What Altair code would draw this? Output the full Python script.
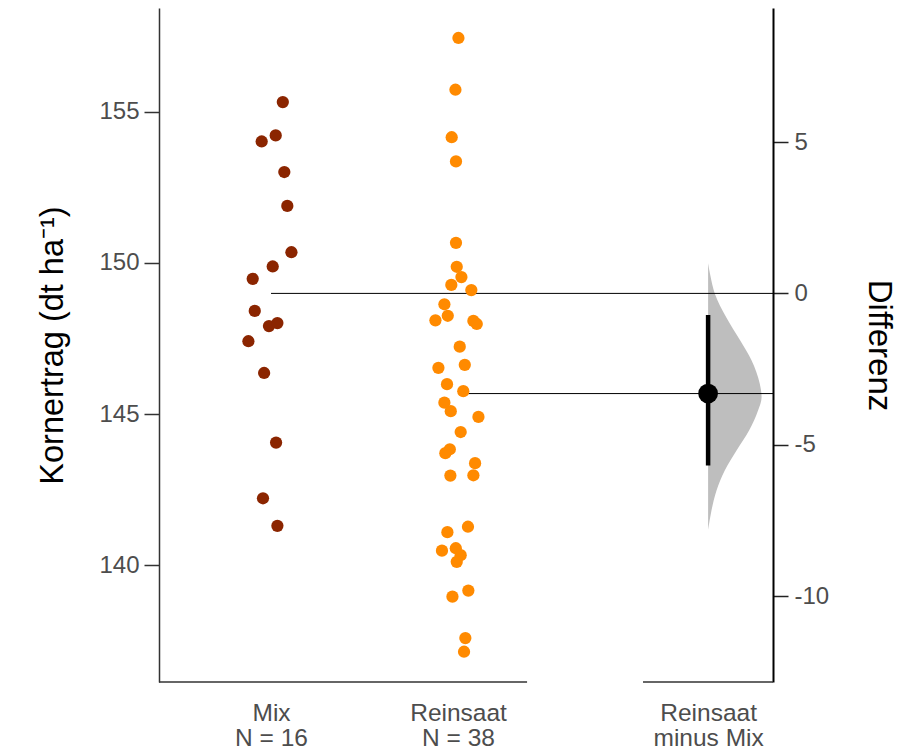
import altair as alt
import pandas as pd

FONT = "Liberation Sans"

# ---- data ----
groups = ["Mix", "Reinsaat"]
group_pos = [1, 2]
group_colors = ["#8B2500", "#FF8A00"]
group_n = [16, 38]

mix_yield = [155.31, 154.01, 154.21, 153.00, 151.88, 150.35, 149.88, 149.47,
             148.41, 147.91, 148.01, 147.41, 146.36, 144.06, 142.22, 141.31]
mix_jitter = [0.063, -0.050, 0.025, 0.071, 0.087, 0.109, 0.009, -0.098,
              -0.087, -0.011, 0.034, -0.121, -0.037, 0.027, -0.043, 0.034]

rein_yield = [157.43, 155.72, 154.15, 153.35, 150.66, 149.87, 149.53, 149.27,
              149.10, 148.63, 148.25, 148.10, 148.08, 147.98, 147.23, 146.53,
              146.63, 145.99, 145.76, 145.38, 145.10, 144.91, 144.41, 143.84,
              143.71, 143.38, 142.98, 142.97, 141.28, 141.10, 140.49, 140.57,
              140.34, 140.12, 139.17, 138.97, 137.60, 137.15]
rein_jitter = [0.002, -0.014, -0.034, -0.011, -0.011, -0.007, 0.018, -0.036,
               0.071, -0.073, -0.055, -0.121, 0.082, 0.100, 0.009, -0.105,
               0.036, -0.059, 0.028, -0.073, -0.039, 0.109, 0.014, -0.044,
               -0.068, 0.091, 0.082, -0.041, 0.053, -0.057, -0.086, -0.012,
               0.014, -0.007, 0.055, -0.030, 0.039, 0.032]

group_means = [148.99, 145.68]

diff_label = ["Reinsaat", "minus Mix"]
diff_pos = 3.337
diff_mean = -3.31
diff_ci = [-5.69, -0.71]

# bootstrap density of the difference (half violin)
dens_diff = [1.00, 0.59, -0.01, -0.78, -1.55, -2.21, -2.98, -3.43, -3.87,
             -4.53, -5.19, -5.85, -6.51, -7.17, -7.81]
dens_width = [0.0, 0.012, 0.036, 0.096, 0.171, 0.232, 0.276, 0.286, 0.267,
              0.219, 0.152, 0.089, 0.045, 0.018, 0.0]

x_domain = [0.401, 3.684]
panel_start = [0.401, 2.989]
panel_end = [2.369, 3.684]
y_left_domain = [136.15, 158.42]
y_right_domain = [-12.84, 9.43]

# ---- tables ----
pts = pd.DataFrame({
    "group": ["Mix"] * len(mix_yield) + ["Reinsaat"] * len(rein_yield),
    "yield": mix_yield + rein_yield,
    "x": [group_pos[0] + j for j in mix_jitter] + [group_pos[1] + j for j in rein_jitter],
})
means_df = pd.DataFrame({"x": group_pos, "x_end": [x_domain[1]] * 2, "mean": group_means})
panels_df = pd.DataFrame({"start": panel_start, "end": panel_end})
violin_df = pd.DataFrame({"diff": dens_diff,
                          "x0": [diff_pos] * len(dens_diff),
                          "x1": [diff_pos + w for w in dens_width]})
diff_df = pd.DataFrame({"x": [diff_pos], "mean": [diff_mean],
                        "lo": [diff_ci[0]], "hi": [diff_ci[1]]})

# ---- scales & axes ----
x_scale = alt.Scale(domain=x_domain, nice=False, zero=False)
yl_scale = alt.Scale(domain=y_left_domain, nice=False, zero=False)
yr_scale = alt.Scale(domain=y_right_domain, nice=False, zero=False)

lab1 = f"['{groups[0]}', 'N = {group_n[0]}']"
lab2 = f"['{groups[1]}', 'N = {group_n[1]}']"
lab3 = f"['{diff_label[0]}', '{diff_label[1]}']"
x_axis = alt.Axis(values=[group_pos[0], group_pos[1], diff_pos],
                  labelExpr=f"datum.value < 1.5 ? {lab1} : datum.value < 2.5 ? {lab2} : {lab3}",
                  domain=False, ticks=False, tickSize=0, grid=False, title=None,
                  labelPadding=19, labelFontSize=24.5, labelFont=FONT,
                  labelColor="#4d4d4d", labelLineHeight=25,
                  labelOverlap=False, labelFlush=False)

left_axis = alt.Axis(orient="left", values=[140, 145, 150, 155], grid=False,
                     title="Kornertrag (dt ha⁻¹)", titleFont=FONT, titleFontSize=32.5,
                     titleFontWeight="normal", titleColor="black", titlePadding=29,
                     labelFont=FONT, labelFontSize=24, labelColor="#4d4d4d", labelPadding=5,
                     tickSize=15, tickColor="#333333", tickWidth=1.5,
                     domainColor="#333333", domainWidth=1.5)

right_axis = alt.Axis(orient="right", values=[-10, -5, 0, 5], grid=False,
                      labelExpr="'' + datum.value",
                      title="Differenz", titleFont=FONT, titleFontSize=33,
                      titleFontWeight="normal", titleColor="black", titlePadding=33,
                      labelFont=FONT, labelFontSize=24, labelColor="#4d4d4d", labelPadding=6,
                      tickSize=15, tickColor="#222222", tickWidth=1.5,
                      domainColor="black", domainWidth=2)

# ---- layers ----
violin = alt.Chart(violin_df).mark_area(orient="horizontal", color="#bebebe",
                                         interpolate="monotone").encode(
    y=alt.Y("diff:Q", scale=yr_scale, axis=right_axis),
    x=alt.X("x0:Q", scale=x_scale, axis=x_axis),
    x2="x1:Q",
)

bottom_lines = alt.Chart(panels_df).mark_rule(color="#333333", strokeWidth=1.5).encode(
    x=alt.X("start:Q", scale=x_scale, axis=x_axis),
    x2="end:Q",
    y=alt.Y(datum=y_left_domain[0], scale=yl_scale, axis=left_axis),
)
mean_lines = alt.Chart(means_df).mark_rule(color="black", strokeWidth=1).encode(
    x=alt.X("x:Q", scale=x_scale, axis=x_axis),
    x2="x_end:Q",
    y=alt.Y("mean:Q", scale=yl_scale, axis=left_axis),
)
points = alt.Chart(pts).mark_circle(size=150, opacity=1).encode(
    x=alt.X("x:Q", scale=x_scale, axis=x_axis),
    y=alt.Y("yield:Q", scale=yl_scale, axis=left_axis),
    color=alt.Color("group:N", scale=alt.Scale(domain=groups, range=group_colors), legend=None),
)
left_layer = alt.layer(bottom_lines, mean_lines, points)

ci = alt.Chart(diff_df).mark_rule(color="black", strokeWidth=4.5).encode(
    x=alt.X("x:Q", scale=x_scale, axis=x_axis),
    y=alt.Y("lo:Q", scale=yr_scale, axis=None),
    y2="hi:Q",
)
dpt = alt.Chart(diff_df).mark_circle(size=390, opacity=1, color="black").encode(
    x=alt.X("x:Q", scale=x_scale, axis=x_axis),
    y=alt.Y("mean:Q", scale=yr_scale, axis=None),
)
diff_layer = alt.layer(ci, dpt)

chart = alt.layer(violin, left_layer, diff_layer).resolve_scale(y="independent").properties(
    width=614, height=674,
    padding={"left": 151, "top": 0, "right": 130, "bottom": 68},
    autosize=alt.AutoSizeParams(type="none"),
).configure_view(stroke=None)

chart.save("out.html", embed_options={"renderer": "svg", "actions": False})
